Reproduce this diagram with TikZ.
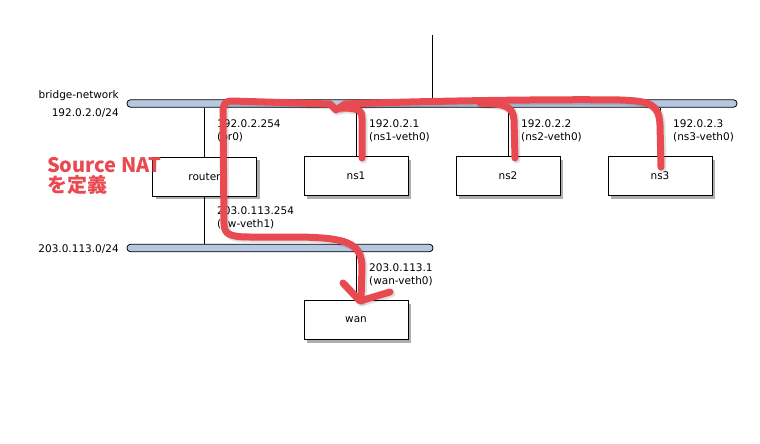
\documentclass[tikz,border=0pt]{standalone}
\usepackage{fontspec}
\setmainfont{DejaVu Sans}
\newfontfamily\cjk{Noto Sans CJK JP}
\usetikzlibrary{shadows}
\definecolor{barfill}{RGB}{182,199,225}
\definecolor{annot}{RGB}{233,73,80}
\begin{document}
\begin{tikzpicture}[x=1pt,y=-1pt,
  every node/.style={font=\fontsize{10.5}{13}\selectfont},
  hostbox/.style={draw=black,line width=0.8pt,fill=white,minimum width=104pt,minimum height=39pt,inner sep=0pt,
    drop shadow={shadow xshift=3pt,shadow yshift=-3pt,opacity=0.45,fill=black!70}},
  netbar/.style={draw=black,line width=0.8pt,fill=barfill,rounded corners=3.5pt,inner sep=0pt,minimum height=7.5pt},
  link/.style={draw=black,line width=0.8pt},
  lbl/.style={anchor=base west,inner sep=0pt},
  netlbl/.style={anchor=base east,inner sep=0pt},
  redline/.style={draw=annot,line width=7pt,line cap=round,line join=round},
  redshadow/.style={draw=black,opacity=0.12,line width=8pt,line cap=round,line join=round,shift={(1.5,1.5)}}
]
\useasboundingbox (0,0) rectangle (760,444);

% networks
\node[netbar,minimum width=610pt] (bridge) at (432,103.5) {};
\node[netbar,minimum width=306pt] (wannet) at (280,248) {};
\coordinate (uplink) at (432,35);

% hosts
\node[hostbox] (router) at (204.5,176.5) {router};
\node[hostbox] (ns1) at (356,176) {ns1};
\node[hostbox] (ns2) at (508,176) {ns2};
\node[hostbox] (ns3) at (660,176) {ns3};
\node[hostbox] (wan) at (356,320) {wan};

% links
\draw[link] (uplink) -- (uplink |- bridge.north);
\draw[link] (router.north) -- (router.north |- bridge.south);
\draw[link] (router.south) -- (router.south |- wannet.north);
\draw[link] (ns1.north) -- (ns1.north |- bridge.south);
\draw[link] (ns2.north) -- (ns2.north |- bridge.south);
\draw[link] (ns3.north) -- (ns3.north |- bridge.south);
\draw[link] (wan.north) -- (wan.north |- wannet.south);

% network labels
\node[netlbl] (brname) at (119,99) {bridge-network};
\node[netlbl] (brnet) at (119,116) {192.0.2.0/24};
\node[netlbl] (wnnet) at (119,252) {203.0.113.0/24};

% interface labels
\node[lbl] (ipbr0) at (217,127) {192.0.2.254};
\node[lbl] (ifbr0) at (217,140) {(br0)};
\node[lbl] (ipns1) at (369,127) {192.0.2.1};
\node[lbl] (ifns1) at (369,140) {(ns1-veth0)};
\node[lbl] (ipns2) at (521,127) {192.0.2.2};
\node[lbl] (ifns2) at (521,140) {(ns2-veth0)};
\node[lbl] (ipns3) at (673,127) {192.0.2.3};
\node[lbl] (ifns3) at (673,140) {(ns3-veth0)};
\node[lbl] (ipgw) at (217,214) {203.0.113.254};
\node[lbl] (ifgw) at (217,227) {(gw-veth1)};
\node[lbl] (ipwan) at (369,271) {203.0.113.1};
\node[lbl] (ifwan) at (369,284) {(wan-veth0)};

% annotation
\foreach \sty in {redshadow,redline}{
\draw[\sty] (661,167) -- (660,125) .. controls (659,104) and (650,101) .. (620,100)
  .. controls (560,99) and (420,101) .. (345,104) -- (336,110) -- (330,104) -- (232,101)
  .. controls (225,101) and (223,104) .. (223,112) -- (224,224)
  .. controls (224,235) and (232,237) .. (250,237) -- (300,237)
  .. controls (345,238) and (362,242) .. (362,268) -- (361,300);
\draw[\sty] (515,158) -- (514,120) .. controls (513,106) and (505,104) .. (480,103);
\draw[\sty] (362,158) -- (362,118) .. controls (362,110) and (358,108) .. (340,108);
\draw[\sty] (343,283) -- (360,301) -- (390,292);
}
\node[anchor=base west,inner sep=0pt,text=annot,font=\cjk\bfseries\fontsize{20}{25}\selectfont] (snat) at (47,172) {Source NAT};
\node[anchor=base west,inner sep=0pt,text=annot,font=\cjk\bfseries\fontsize{20}{25}\selectfont] (snat2) at (47,192) {を定義};
\end{tikzpicture}
\end{document}
